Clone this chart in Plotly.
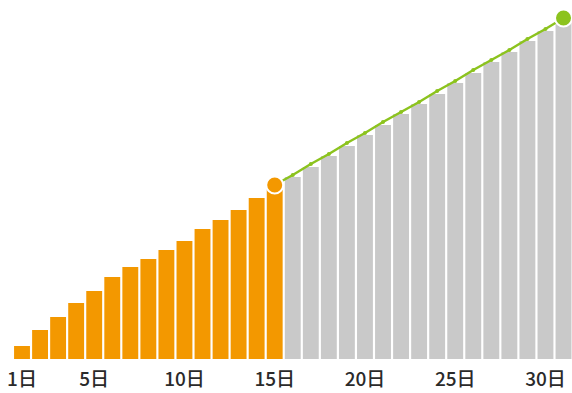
import plotly.graph_objects as go

# Days of the month
days_actual = list(range(1, 16))
days_forecast = list(range(16, 32))

# Cumulative values so far (days 1-15)
actual = [13, 29, 42, 56, 68, 82, 92, 100, 109, 118, 130, 139, 149, 161, 174]

# Projected values for the rest of the month (days 16-31)
forecast = [182, 192, 203, 213, 224, 234, 245, 255, 265, 276, 286, 297, 307, 318, 328, 337]

# Trend line from today's value to the month-end estimate
trend_days = list(range(15, 32))
trend = [174, 184, 195, 205, 216, 226, 237, 247, 257, 268, 278, 289, 299, 309, 320, 330, 341]

tick_days = [1, 5, 10, 15, 20, 25, 30]
tick_text = ["1日", "5日", "10日", "15日", "20日", "25日", "30日"]

ORANGE = "#F39800"
GRAY = "#C9C9C9"
GREEN = "#8CC31E"

fig = go.Figure()

fig.add_trace(go.Bar(x=days_actual, y=actual, width=0.88,
                     marker=dict(color=ORANGE, line=dict(width=0)), hoverinfo="skip"))
fig.add_trace(go.Bar(x=days_forecast, y=forecast, width=0.88,
                     marker=dict(color=GRAY, line=dict(width=0)), hoverinfo="skip"))

# Trend line with small point markers
fig.add_trace(go.Scatter(x=trend_days, y=trend, mode="lines+markers",
                         line=dict(color=GREEN, width=2.5),
                         marker=dict(color=GREEN, size=4),
                         hoverinfo="skip"))

# Endpoint dots
fig.add_trace(go.Scatter(x=[days_actual[-1]], y=[actual[-1]], mode="markers",
                         marker=dict(color=ORANGE, size=17, line=dict(color="white", width=2)),
                         hoverinfo="skip"))
fig.add_trace(go.Scatter(x=[trend_days[-1]], y=[trend[-1]], mode="markers",
                         marker=dict(color=GREEN, size=17, line=dict(color="white", width=2)),
                         hoverinfo="skip"))

fig.update_layout(
    width=572, height=393,
    margin=dict(l=0, r=0, t=0, b=34),
    paper_bgcolor="white", plot_bgcolor="white",
    showlegend=False, barmode="overlay",
    xaxis=dict(range=[-0.219, 31.47], tickvals=tick_days, ticktext=tick_text,
               showgrid=False, zeroline=False, showline=False, ticks="",
               automargin=False,
               tickfont=dict(family="Noto Sans CJK JP", size=19, color="#2a2a2a", weight=500),
               ticklabelstandoff=7),
    yaxis=dict(range=[0, 359], visible=False, showgrid=False, zeroline=False),
)

fig.write_html("out.html")
